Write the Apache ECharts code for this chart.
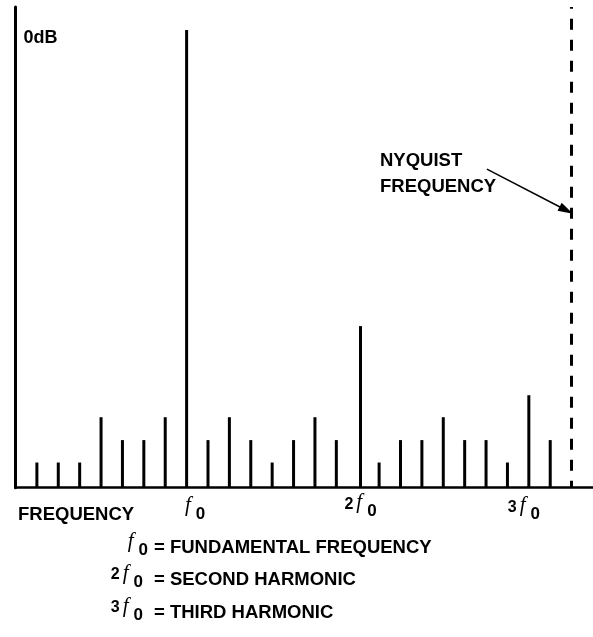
<!DOCTYPE html>
<html>
<head>
<meta charset="utf-8">
<script src="https://cdn.jsdelivr.net/npm/echarts@6/dist/echarts.min.js"></script>
<style>
  html, body { margin: 0; padding: 0; background: #fff; }
  #chart { width: 593px; height: 637px; }
</style>
</head>
<body>
<div id="chart"></div>
<script>
// ---- data ----
const binPositions = [1, 2, 3, 4, 5, 6, 7, 8, 9, 10, 11, 12, 13, 14, 15, 16.13, 17, 18, 19, 20, 21, 22, 23, 24, 25];
const amplitudes   = [5.5, 5.5, 5.5, 15.4, 10.4, 10.4, 15.4, 100, 10.4, 15.4, 10.4, 5.5, 10.4, 15.4, 10.4, 35.3, 5.5, 10.4, 10.4, 15.4, 10.4, 10.4, 5.5, 20.2, 10.4];
const harmonicPositions = [8, 16.13, 24];
const harmonicPrefixes  = ['', '2', '3'];
const nyquistPosition = 26;
const xMax = 27;
const yMax = 105;
const refLevel = 100;
const refLabel = '0dB';
const xAxisTitle = 'FREQUENCY';
const nyquistText = ['NYQUIST', 'FREQUENCY'];
const arrowStart = [22.04, 69.6];
const arrowEnd = [25.75, 60.6];
const legendPrefixes = ['', '2', '3'];
const legendTexts = ['= FUNDAMENTAL FREQUENCY', '= SECOND HARMONIC', '= THIRD HARMONIC'];

const SANS = 'Liberation Sans, Arial, sans-serif';
const SERIF = 'Liberation Serif, Times New Roman, serif';
const TXT = 18.5;

const symRich = {
  n:  { fontFamily: SANS, fontWeight: 'bold', fontSize: 16, lineHeight: 21, padding: [3, 3, 4, 0], color: '#000' },
  sp: { width: 17, fontSize: 14, lineHeight: 28, color: '#000' },
  tr: { width: 10, fontSize: 14, lineHeight: 28, color: '#000' },
  f:  { fontFamily: SERIF, fontStyle: 'italic', fontSize: 21, lineHeight: 22, padding: [1, 0, 5, 0], color: '#000' },
  s:  { fontFamily: SANS, fontWeight: 'bold', fontSize: 17, lineHeight: 14, padding: [14, 0, 0, 5], color: '#000' }
};
function symbolText(prefix, spacer, trailing) {
  return (prefix ? '{n|' + prefix + '}' : (spacer ? '{sp| }' : '')) + '{f|f}{s|0}' + (trailing ? '{tr| }' : '');
}

const chart = echarts.init(document.getElementById('chart'), null, { renderer: 'canvas' });

const graphics = [];
graphics.push({ type: 'text', style: { text: nyquistText[0], x: 380, y: 161, verticalAlign: 'middle', fontFamily: SANS, fontWeight: 'bold', fontSize: TXT, fill: '#000' } });
graphics.push({ type: 'text', style: { text: nyquistText[1], x: 380, y: 187, verticalAlign: 'middle', fontFamily: SANS, fontWeight: 'bold', fontSize: TXT, fill: '#000' } });
graphics.push({ type: 'text', style: { text: xAxisTitle, x: 18, y: 514.5, verticalAlign: 'middle', fontFamily: SANS, fontWeight: 'bold', fontSize: TXT, fill: '#000' } });
const legendY = [548, 580, 613];
const legendSymRight = [148, 143, 143];
legendTexts.forEach((t, i) => {
  graphics.push({ type: 'text', style: { text: symbolText(legendPrefixes[i], false, false), rich: symRich, x: legendSymRight[i], y: legendY[i] - 4.5, align: 'right', verticalAlign: 'middle' } });
  graphics.push({ type: 'text', style: { text: t, x: 154, y: legendY[i], verticalAlign: 'middle', fontFamily: SANS, fontWeight: 'bold', fontSize: TXT, fill: '#000' } });
});

const option = {
  animation: false,
  backgroundColor: '#fff',
  grid: { left: 15.5, right: 0, top: 7, bottom: 149.3, containLabel: false, outerBoundsMode: 'none' },
  xAxis: {
    type: 'value', min: 0, max: xMax,
    axisLine: { show: true, onZero: false, lineStyle: { color: '#000', width: 2.5 } },
    axisTick: { show: false },
    splitLine: { show: false },
    axisLabel: {
      show: true,
      customValues: harmonicPositions,
      margin: 6,
      formatter: function (v) {
        let i = 0, best = 1e9;
        harmonicPositions.forEach((p, k) => { if (Math.abs(p - v) < best) { best = Math.abs(p - v); i = k; } });
        return symbolText(harmonicPrefixes[i], true, i === 2);
      },
      rich: symRich
    }
  },
  yAxis: {
    type: 'value', min: 0, max: yMax,
    axisLine: { show: true, lineStyle: { color: '#000', width: 3 } },
    axisTick: { show: false },
    splitLine: { show: false },
    axisLabel: {
      show: true,
      inside: true,
      customValues: [refLevel],
      margin: 8,
      verticalAlign: 'top',
      lineHeight: 17,
      formatter: function () { return refLabel; },
      fontFamily: SANS, fontWeight: 'bold', fontSize: 18, color: '#000'
    }
  },
  series: [{
    type: 'bar',
    barWidth: 3,
    itemStyle: { color: '#000' },
    data: binPositions.map((x, i) => [x, amplitudes[i]]),
    silent: true,
    markLine: {
      silent: true,
      animation: false,
      label: { show: false },
      data: [
        [
          { coord: [nyquistPosition, 0], symbol: 'none', lineStyle: { color: '#000', width: 3, type: [11, 10], dashOffset: 4 } },
          { coord: [nyquistPosition, yMax], symbol: 'none' }
        ],
        [
          { coord: arrowStart, symbol: 'none', lineStyle: { color: '#000', width: 1.5, type: 'solid' } },
          { coord: arrowEnd, symbol: 'triangle', symbolSize: [9, 15] }
        ]
      ]
    }
  }],
  graphic: graphics
};
chart.setOption(option);
</script>
</body>
</html>
